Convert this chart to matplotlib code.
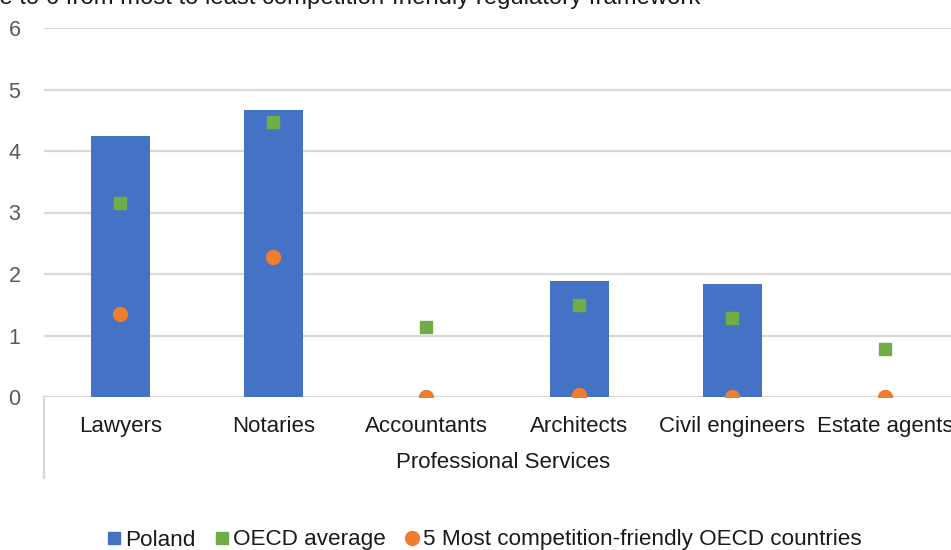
import numpy as np
import matplotlib
matplotlib.use('Agg')
import matplotlib.pyplot as plt
from matplotlib.lines import Line2D

plt.rcParams['font.family'] = ['Liberation Sans', 'DejaVu Sans']

# data
professions = ['Lawyers', 'Notaries', 'Accountants', 'Architects', 'Civil engineers', 'Estate agents']
poland = [4.24, 4.67, 0.0, 1.89, 1.83, 0.0]
oecd_avg = [3.15, 4.47, 1.14, 1.50, 1.29, 0.78]
top5 = [1.35, 2.27, 0.0, 0.03, 0.0, 0.0]

blue = '#4472C4'
green = '#70AD47'
orange = '#ED7D31'
grid_col = '#D9D9D9'

fig = plt.figure(figsize=(9.51, 5.5), dpi=100)
W, H = 951, 550
# plot area runs past the right edge, like the cropped reference
left, right, top, bottom = 44, 962, 28, 397
ax = fig.add_axes([left / W, 1 - bottom / H, (right - left) / W, (bottom - top) / H])

x = np.arange(len(professions))
ax.bar(x, poland, width=0.39, color=blue, zorder=2)
ax.plot(x, oecd_avg, 's', color=green, markersize=8.5, zorder=3)
ax.plot(x, top5, 'o', color=orange, markersize=10, zorder=4)

ax.set_xlim(-0.5, len(professions) - 0.5)
ax.set_ylim(0, 6)
ax.set_yticks(range(0, 7))
ax.yaxis.grid(True, color=grid_col, linewidth=1.6, zorder=0)
ax.set_axisbelow(True)
for s in ax.spines.values():
    s.set_visible(False)
ax.tick_params(axis='y', length=0, labelsize=15.5, labelcolor='#595959', pad=17)
ax.tick_params(axis='x', length=0, labelsize=16, labelcolor='#1a1a1a', pad=14)
ax.set_xticks(x)
ax.set_xticklabels(professions)
ax.axhline(0, color=grid_col, linewidth=1.6, zorder=1)

# category axis line running down through the label area
ax.add_line(Line2D([0, 0], [0, -(478 - 397) / (bottom - top)], transform=ax.transAxes,
                   color=grid_col, linewidth=1.6, clip_on=False))

ax.set_xlabel('Professional Services', fontsize=16, color='#1a1a1a')
ax.xaxis.set_label_coords((503 - left) / (right - left), -(463 - 397) / (bottom - top))
ax.xaxis.label.set_va('center')

# title, cut off at the top edge as in the reference
fig.text(700 / W, 1 - 4 / H, 'Scale to 6 from most to least competition-friendly regulatory framework',
         ha='right', va='baseline', fontsize=17.2, color='#1a1a1a')

handles = [
    Line2D([], [], marker='s', linestyle='none', color=blue, markersize=8),
    Line2D([], [], marker='s', linestyle='none', color=green, markersize=8),
    Line2D([], [], marker='o', linestyle='none', color=orange, markersize=10),
]
labels = ['Poland', 'OECD average', '5 Most competition-friendly OECD countries']
fig.legend(handles, labels, loc='center', bbox_to_anchor=(485 / W, 1 - 540 / H), ncol=3,
           frameon=False, fontsize=16.2, handlelength=0.5, handletextpad=0.25,
           columnspacing=0.9, labelcolor='#1a1a1a')

fig.savefig('out.png', dpi=100)
